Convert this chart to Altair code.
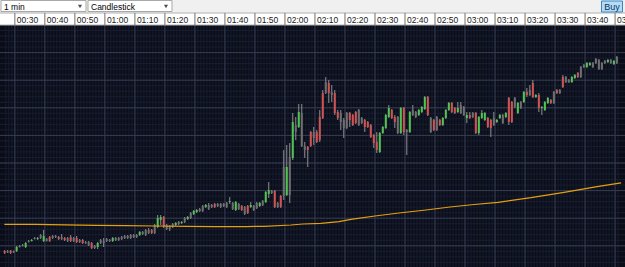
import altair as alt
import pandas as pd

# ---- candle data (1-minute bars from 00:27 to 03:51), price in points ----
OPEN = [16, 16, 16.5, 16, 16, 21, 22, 20, 26, 26, 29, 29, 29, 31, 28, 26, 31, 31, 30, 30,
        29, 29, 30, 29, 29, 27, 27, 25, 25, 24, 21, 20, 24, 26, 28, 27, 26, 29, 29, 30,
        31, 31, 32, 32, 32, 32, 35, 37, 37, 37, 34, 40, 50, 50, 42, 41, 40, 44, 43, 45,
        45, 50, 49, 53, 57, 58, 56, 62, 62, 62, 63, 63, 63, 63, 60, 66, 58, 65, 63, 61,
        60, 54, 62, 61, 59, 64, 62, 65, 77, 76, 76, 64, 60, 100, 72, 110, 109, 142, 140, 154,
        121, 120, 121, 135, 135, 127, 149, 174, 184, 175, 174, 155, 154, 147, 139, 154, 152, 155, 157, 149,
        147, 145, 142, 132, 125, 115, 134, 139, 150, 157, 150, 150, 134, 159, 137, 135, 157, 155, 152, 155,
        158, 170, 149, 147, 150, 147, 142, 149, 157, 164, 159, 155, 154, 160, 152, 149, 154, 154, 134, 149,
        147, 149, 147, 142, 147, 149, 144, 154, 169, 145, 169, 154, 159, 165, 175, 177, 184, 172, 172, 160,
        157, 164, 167, 175, 177, 174, 180, 190, 187, 190, 192, 194, 190, 202, 200, 204, 200, 204, 207, 198,
        206, 207, 207, 206, 210]
HIGH = [17, 17, 17, 16.5, 21, 22, 23, 25, 27, 28, 30, 30, 33, 37, 29, 31, 32, 32, 31, 33,
        30, 30, 32, 30, 31, 28, 28, 26, 26, 25, 22, 25, 28, 29, 29, 28, 30, 30, 30, 31,
        32, 32, 33, 33, 33, 36, 36, 38, 39, 38, 43, 52, 52, 51, 43, 42, 44, 45, 46, 46,
        50, 51, 55, 57, 58, 59, 62, 63, 64, 63, 64, 64, 64, 64, 65, 70, 65, 66, 64, 62,
        61, 62, 65, 62, 65, 65, 67, 76, 85, 77, 77, 65, 72, 117, 122, 124, 154, 150, 163, 163,
        125, 121, 136, 140, 137, 157, 177, 190, 187, 182, 177, 157, 157, 149, 155, 155, 153, 156, 158, 150,
        148, 146, 143, 133, 135, 135, 141, 153, 162, 158, 152, 151, 160, 160, 138, 156, 162, 156, 158, 161,
        171, 171, 150, 148, 151, 148, 150, 158, 165, 165, 160, 165, 165, 161, 155, 155, 155, 155, 151, 157,
        155, 150, 148, 155, 148, 153, 153, 155, 170, 166, 170, 165, 166, 176, 179, 182, 187, 173, 174, 161,
        166, 170, 168, 176, 178, 178, 192, 191, 188, 191, 193, 195, 201, 203, 205, 205, 205, 209, 208, 205,
        207, 208, 208, 207, 211]
LOW = [13, 14, 13, 14, 15, 19.5, 20.5, 19, 24.5, 25.5, 27.5, 27, 28, 25, 25.5, 25, 28, 29, 27, 27,
       26, 25, 25, 25, 24, 24, 23, 23, 21, 18, 18, 18, 23, 20, 25, 25, 25, 26, 26, 27,
       28, 28, 28, 29, 29, 31, 32, 31, 33, 33, 33, 39, 42, 39, 37, 36, 39, 41, 42, 43,
       44, 47, 48, 52, 54, 55, 55, 59, 57, 59, 59, 60, 59, 60, 59, 63, 57, 56, 57, 56,
       52, 53, 59, 56, 58, 60, 61, 64, 69, 73, 59, 59, 59, 67, 71, 64, 107, 127, 139, 120,
       109, 100, 120, 122, 124, 125, 148, 173, 164, 165, 152, 147, 137, 129, 138, 140, 141, 143, 141, 143,
       135, 139, 129, 119, 114, 114, 133, 138, 149, 148, 139, 133, 133, 132, 112, 134, 151, 149, 151, 154,
       157, 151, 134, 136, 136, 141, 141, 148, 156, 154, 153, 154, 153, 151, 144, 148, 149, 133, 132, 148,
       146, 139, 130, 141, 144, 148, 143, 149, 142, 144, 159, 153, 158, 164, 170, 171, 169, 169, 155, 152,
       156, 163, 163, 163, 173, 173, 179, 184, 184, 184, 188, 189, 189, 199, 199, 201, 199, 203, 197, 197,
       203, 204, 203, 202, 203]
CLOSE = [14, 14.5, 14, 14.5, 20, 20, 21, 24, 25, 27, 28, 28, 32, 26, 26, 30, 29, 30, 28, 28,
         27, 26, 26, 26, 25, 25, 24, 24, 22, 19, 19, 24, 27, 24, 26, 26, 29, 27, 27, 28,
         29, 29, 29, 30, 30, 35, 33, 32, 34, 34, 42, 49, 47, 41, 38, 38, 43, 42, 45, 44,
         49, 48, 54, 56, 55, 56, 61, 60, 58, 60, 60, 61, 60, 61, 64, 65, 64, 57, 58, 57,
         53, 61, 60, 57, 64, 61, 66, 75, 73, 74, 60, 60, 71, 71, 100, 72, 145, 135, 155, 121,
         117, 117, 135, 129, 125, 150, 174, 185, 174, 172, 154, 149, 145, 139, 154, 147, 142, 144, 142, 144,
         140, 140, 130, 124, 117, 134, 140, 152, 159, 149, 145, 134, 159, 135, 135, 155, 152, 150, 157, 160,
         170, 152, 135, 137, 137, 142, 149, 157, 164, 155, 154, 159, 162, 152, 149, 152, 150, 134, 150, 154,
         154, 140, 139, 149, 145, 152, 152, 150, 145, 165, 160, 164, 165, 175, 172, 172, 170, 170, 159, 159,
         165, 169, 164, 164, 174, 177, 190, 185, 185, 185, 189, 190, 200, 200, 204, 202, 204, 208, 198, 204,
         204, 205, 204, 203, 204]
# u = up (green), d = down (red), n = neutral (grey)
DIR = list("dndnunnunununundnndndndndndnndnunnnnunnnnnnnnunnndnuudnnnunununuunnunndnnnnunundndunnunuundndnunununnddndddndnddnnndddnnddddduuuuddnudnunnuuudndnduuuddunnudnduuuddnuunuddnunudnduduuudndndnnuudnnuunnnnnununuuudunnndn")

# ---- moving average (sampled at bar minutes) ----
MA_MIN = [26.5, 37, 47, 57, 67, 77, 87, 97, 107, 113, 122, 126, 132, 138, 142, 150, 158, 167,
          175, 183, 191, 202, 213, 224, 232]
MA_VAL = [42.7, 42.6, 42.2, 41.7, 41.3, 41.0, 40.6, 40.4, 40.4, 40.7, 42.0, 43.0, 43.7, 45.3,
          47.7, 51.0, 54.0, 57.0, 60.0, 62.5, 64.7, 69.3, 74.7, 80.3, 84.2]

# ---- time axis ----
TICK_MIN = [30, 40, 50, 60, 70, 80, 90, 100, 110, 120, 130, 140, 150, 160, 170, 180, 190,
            200, 210, 220, 230]
TICK_LABELS = ["00:30", "00:40", "00:50", "01:00", "01:10", "01:20", "01:30", "01:40", "01:50",
               "02:00", "02:10", "02:20", "02:30", "02:40", "02:50", "03:00", "03:10", "03:20",
               "03:30", "03:40", "03:50"]

START_MIN = 27
n = min(len(OPEN), len(HIGH), len(LOW), len(CLOSE), len(DIR))
candles = pd.DataFrame({
    "t": [START_MIN + i for i in range(n)],
    "open": OPEN[:n], "high": HIGH[:n], "low": LOW[:n], "close": CLOSE[:n], "dir": DIR[:n],
})
ma = pd.DataFrame({"t": MA_MIN, "v": MA_VAL})
ticks = pd.DataFrame({"t": TICK_MIN, "label": TICK_LABELS})

W, H = 625, 242
X0, X1 = 26.72, 26.72 + 625 / 3.05
XS = alt.Scale(domain=[X0, X1], nice=False, zero=False)
YS = alt.Scale(domain=[0, 242], nice=False, zero=False)

BG_MINOR = "#181e30"
BG_MAJOR = "#363c52"
FONT = "Liberation Sans"

one = pd.DataFrame({"a": [0]})

minor_v = alt.Chart(pd.DataFrame({"t": list(range(27, 232))})).mark_rule(
    color=BG_MINOR, strokeWidth=1).encode(x=alt.X("t:Q", scale=XS, axis=None))
minor_h = alt.Chart(pd.DataFrame({"p": [242 - 5.52 * i for i in range(1, 44)]})).mark_rule(
    color=BG_MINOR, strokeWidth=1).encode(y=alt.Y("p:Q", scale=YS, axis=None))
major_v = alt.Chart(ticks).mark_rule(color=BG_MAJOR, strokeWidth=1).encode(
    x=alt.X("t:Q", scale=XS, axis=None))
major_h = alt.Chart(pd.DataFrame({"p": [242 - 27.6 * j for j in range(1, 9)]})).mark_rule(
    color=BG_MAJOR, strokeWidth=1).encode(y=alt.Y("p:Q", scale=YS, axis=None))

wicks = alt.Chart(candles).mark_rule(color="#8e8e8e", strokeWidth=1, xOffset=-1.2).encode(
    x=alt.X("t:Q", scale=XS, axis=None),
    y=alt.Y("low:Q", scale=YS, axis=None),
    y2="high:Q",
)
bodies = alt.Chart(candles).mark_bar(size=2, xOffset=-1.2).encode(
    x=alt.X("t:Q", scale=XS, axis=None),
    y=alt.Y("open:Q", scale=YS, axis=None),
    y2="close:Q",
    color=alt.Color("dir:N", scale=alt.Scale(domain=["u", "d", "n"],
                                             range=["#4fc44f", "#d25252", "#6e6e6e"]), legend=None),
)
ma_line = alt.Chart(ma).mark_line(color="#e3a010", strokeWidth=1.2).encode(
    x=alt.X("t:Q", scale=XS, axis=None),
    y=alt.Y("v:Q", scale=YS, axis=None),
)

# time strip above the plot
strip_bg = alt.Chart(one).mark_rect(color="#ffffff", stroke="#b0b0b0", strokeWidth=1).encode(
    x=alt.value(-1), x2=alt.value(W + 1), y=alt.value(-12), y2=alt.value(0))
seps = alt.Chart(ticks).mark_rule(color="#707070", strokeWidth=1).encode(
    x=alt.X("t:Q", scale=XS, axis=None), y=alt.value(-12), y2=alt.value(0))
labels = alt.Chart(ticks).mark_text(align="left", baseline="middle", dx=2, fontSize=8.5,
                                    font=FONT, color="#202020").encode(
    x=alt.X("t:Q", scale=XS, axis=None), y=alt.value(-5.5), text="label:N")

# toolbar
box1 = alt.Chart(one).mark_rect(color="#ffffff", stroke="#a8a8a8", strokeWidth=1).encode(
    x=alt.value(1), x2=alt.value(86), y=alt.value(-24.5), y2=alt.value(-13.5))
box2 = alt.Chart(one).mark_rect(color="#ffffff", stroke="#a8a8a8", strokeWidth=1).encode(
    x=alt.value(88), x2=alt.value(172), y=alt.value(-24.5), y2=alt.value(-13.5))
txt1 = alt.Chart(one).mark_text(align="left", baseline="middle", fontSize=8.5, font=FONT,
                                color="#000000").encode(
    x=alt.value(4), y=alt.value(-18.5), text=alt.value("1 min"))
txt2 = alt.Chart(one).mark_text(align="left", baseline="middle", fontSize=8.5, font=FONT,
                                color="#000000").encode(
    x=alt.value(91), y=alt.value(-18.5), text=alt.value("Candlestick"))
arr1 = alt.Chart(one).mark_point(shape="triangle-down", filled=True, size=16, color="#000000").encode(
    x=alt.value(80), y=alt.value(-18.5))
arr2 = alt.Chart(one).mark_point(shape="triangle-down", filled=True, size=16, color="#000000").encode(
    x=alt.value(166), y=alt.value(-18.5))
buy_box = alt.Chart(one).mark_rect(color="#b3dcf7", stroke="#3c86c0", strokeWidth=1).encode(
    x=alt.value(601.5), x2=alt.value(622.5), y=alt.value(-24), y2=alt.value(-13))
buy_txt = alt.Chart(one).mark_text(align="center", baseline="middle", fontSize=9, font=FONT,
                                   color="#12305a").encode(
    x=alt.value(612), y=alt.value(-18.5), text=alt.value("Buy"))

chart = alt.layer(
    minor_v, minor_h, major_v, major_h, wicks, bodies, ma_line,
    strip_bg, seps, labels,
    box1, box2, txt1, txt2, arr1, arr2, buy_box, buy_txt,
).properties(
    width=W, height=H, autosize="none",
    padding={"left": 0, "right": 0, "top": 25, "bottom": 0},
    background="#f0f0f0",
).configure_view(fill="#0a0d18", strokeWidth=0)

chart.save("out.html", embed_options={"renderer": "svg", "actions": False})
